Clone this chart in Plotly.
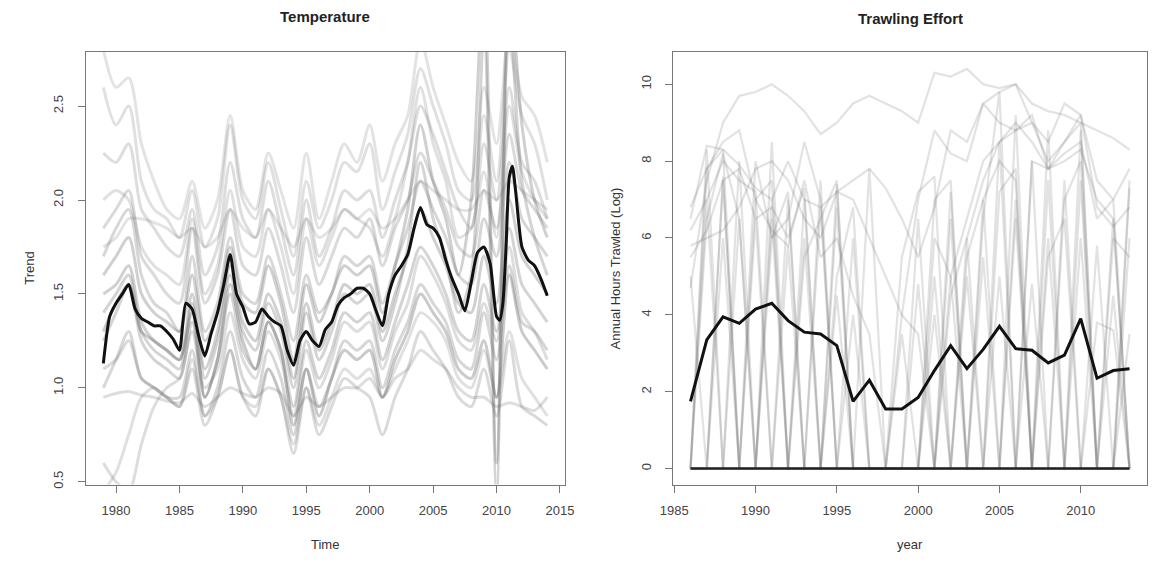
import plotly.graph_objects as go

# ---------------- Temperature panel data ----------------
temp_years = list(range(1979, 2015))

temp_series = [
    [2.80, 2.60, 2.65, 2.30, 2.10, 1.95, 1.90, 2.10, 1.85, 2.00, 2.45, 2.05, 1.95, 2.25, 2.05, 1.85, 2.25, 1.90, 2.10, 2.30, 2.20, 2.40, 2.10, 2.30, 2.45, 2.85, 2.60, 2.40, 2.20, 2.10, 2.60, 2.30, 2.90, 2.55, 2.45, 2.20],
    [2.60, 2.40, 2.50, 2.10, 1.95, 1.90, 1.80, 2.05, 1.75, 1.90, 2.40, 2.00, 1.90, 2.20, 1.95, 1.70, 2.10, 1.85, 2.00, 2.20, 2.15, 2.30, 1.95, 2.15, 2.35, 2.70, 2.50, 2.30, 2.05, 2.00, 2.45, 2.10, 2.80, 2.45, 2.30, 2.00],
    [2.25, 2.20, 2.30, 1.95, 1.85, 1.75, 1.70, 1.95, 1.60, 1.75, 2.20, 1.90, 1.80, 2.10, 1.85, 1.60, 2.00, 1.70, 1.85, 2.05, 2.00, 2.05, 1.80, 2.00, 2.20, 2.50, 2.35, 2.15, 1.95, 1.85, 2.30, 2.00, 2.60, 2.20, 2.10, 1.90],
    [1.85, 1.95, 2.05, 1.70, 1.60, 1.50, 1.45, 1.85, 1.45, 1.60, 1.95, 1.65, 1.60, 1.85, 1.65, 1.40, 1.80, 1.55, 1.70, 1.85, 1.80, 1.90, 1.65, 1.85, 2.00, 2.25, 2.10, 1.95, 1.75, 1.70, 2.05, 1.85, 2.35, 2.05, 1.95, 1.85],
    [1.70, 1.85, 1.95, 1.60, 1.45, 1.40, 1.30, 1.70, 1.30, 1.45, 1.80, 1.50, 1.45, 1.70, 1.50, 1.25, 1.60, 1.40, 1.50, 1.70, 1.65, 1.70, 1.45, 1.65, 1.85, 2.10, 1.95, 1.80, 1.60, 1.55, 1.90, 1.70, 2.20, 1.90, 1.80, 1.70],
    [1.75, 1.80, 1.90, 1.90, 1.88, 1.85, 1.80, 1.85, 1.75, 1.80, 1.95, 1.85, 1.80, 1.95, 1.85, 1.75, 1.90, 1.80, 1.85, 1.95, 1.90, 1.95, 1.85, 1.90, 2.00, 2.10, 2.05, 2.00, 1.95, 1.95, 2.05, 2.00, 2.10, 2.05, 2.00, 1.95],
    [1.50, 1.55, 1.65, 1.35, 1.25, 1.20, 1.15, 1.50, 1.10, 1.30, 1.65, 1.35, 1.25, 1.50, 1.35, 1.05, 1.45, 1.20, 1.35, 1.55, 1.50, 1.55, 1.30, 1.50, 1.70, 1.95, 1.80, 1.65, 1.45, 1.40, 1.70, 1.45, 2.00, 1.70, 1.60, 1.50],
    [1.25, 1.40, 1.55, 1.25, 1.15, 1.10, 1.05, 1.35, 0.95, 1.15, 1.50, 1.20, 1.10, 1.35, 1.20, 0.90, 1.25, 1.05, 1.20, 1.40, 1.35, 1.40, 1.15, 1.35, 1.55, 1.75, 1.65, 1.50, 1.30, 1.25, 1.55, 1.30, 1.85, 1.55, 1.45, 1.35],
    [1.00, 1.15, 1.30, 1.05, 1.00, 0.95, 0.95, 1.20, 0.85, 1.00, 1.30, 1.05, 0.95, 1.20, 1.05, 0.75, 1.10, 0.90, 1.05, 1.25, 1.20, 1.25, 1.00, 1.20, 1.35, 1.55, 1.45, 1.35, 1.15, 1.10, 1.40, 1.15, 1.65, 1.35, 1.30, 1.20],
    [0.95, 0.97, 0.98, 0.96, 0.95, 0.93, 0.92, 0.97, 0.90, 0.95, 1.00, 0.97, 0.95, 1.00, 0.97, 0.85, 0.95, 0.90, 0.95, 1.00, 1.00, 1.05, 0.95, 1.05, 1.10, 1.20, 1.15, 1.10, 1.00, 0.95, 0.95, 0.90, 0.92, 0.90, 0.88, 0.95],
    [0.45, 0.55, 0.75, 0.95, 1.00, 0.95, 0.90, 1.15, 0.85, 0.95, 1.20, 0.95, 0.90, 1.10, 0.95, 0.70, 1.00, 0.80, 0.95, 1.10, 1.05, 1.10, 0.95, 1.10, 1.25, 1.40, 1.35, 1.25, 1.05, 1.00, 1.20, 0.95, 1.30, 1.05, 0.95, 0.85],
    [0.60, 0.50, 0.45, 0.70, 0.90, 1.00, 1.05, 1.30, 1.00, 1.10, 1.40, 1.15, 1.05, 1.30, 1.15, 0.85, 1.20, 1.00, 1.15, 1.35, 1.30, 1.35, 1.10, 1.30, 1.45, 1.70, 1.60, 1.45, 1.25, 1.20, 1.45, 1.25, 1.75, 1.40, 1.30, 1.15],
    [1.10, 1.15, 1.25, 1.05, 1.00, 0.95, 0.90, 1.10, 0.80, 0.95, 1.20, 0.95, 0.85, 1.10, 0.95, 0.65, 1.00, 0.75, 0.90, 1.05, 1.00, 0.95, 0.75, 0.95, 1.10, 1.30, 1.20, 1.10, 0.95, 0.90, 1.10, 0.85, 1.25, 0.90, 0.85, 0.80],
    [1.60, 1.70, 1.80, 1.50, 1.40, 1.35, 1.30, 1.60, 1.25, 1.40, 1.75, 1.45, 1.40, 1.65, 1.45, 1.15, 1.55, 1.35, 1.50, 1.65, 1.60, 1.65, 1.40, 1.65, 1.95, 2.40, 2.10, 1.90, 1.60, 2.00, 3.20, 0.60, 3.20, 2.40, 2.00, 1.80],
    [1.40, 1.50, 1.60, 1.30, 1.20, 1.15, 1.10, 1.45, 1.05, 1.25, 1.60, 1.30, 1.20, 1.45, 1.30, 1.00, 1.40, 1.15, 1.30, 1.50, 1.45, 1.50, 1.25, 1.45, 1.75, 2.20, 1.90, 1.70, 1.40, 1.60, 2.90, 0.45, 3.00, 2.10, 1.80, 1.60],
    [1.30, 1.45, 1.55, 1.30, 1.25, 1.20, 1.15, 1.40, 0.95, 1.15, 1.55, 1.25, 1.10, 1.35, 1.20, 0.80, 1.10, 0.85, 1.05, 1.20, 1.15, 1.20, 0.95, 1.15, 1.30, 1.50, 1.40, 1.30, 1.10, 1.05, 1.25, 0.95, 1.60, 1.30, 1.20, 1.10],
    [2.00, 2.05, 2.00, 1.75, 1.65, 1.60, 1.55, 1.90, 1.50, 1.65, 2.05, 1.75, 1.70, 1.95, 1.75, 1.50, 1.90, 1.65, 1.80, 1.95, 1.90, 1.85, 1.70, 1.90, 2.20, 2.60, 2.30, 2.10, 1.80, 1.85, 2.15, 1.80, 2.50, 2.15, 2.00, 1.90],
]

temp_mean_x = [1979.0, 1979.5, 1980.0, 1980.5, 1981.0, 1981.5, 1982.0, 1982.5, 1983.0, 1983.5,
               1984.0, 1984.5, 1985.0, 1985.5, 1986.0, 1986.5, 1987.0, 1987.5, 1988.0, 1988.5,
               1989.0, 1989.5, 1990.0, 1990.5, 1991.0, 1991.5, 1992.0, 1992.5, 1993.0, 1993.5,
               1994.0, 1994.5, 1995.0, 1995.5, 1996.0, 1996.5, 1997.0, 1997.5, 1998.0, 1998.5,
               1999.0, 1999.5, 2000.0, 2000.5, 2001.0, 2001.5, 2002.0, 2002.5, 2003.0, 2003.5,
               2004.0, 2004.5, 2005.0, 2005.5, 2006.0, 2006.5, 2007.0, 2007.5, 2008.0, 2008.5,
               2009.0, 2009.5, 2010.0, 2010.25, 2010.5, 2010.75, 2011.0, 2011.25, 2011.5, 2012.0,
               2012.5, 2013.0, 2013.5, 2014.0]
temp_mean_y = [1.13, 1.38, 1.45, 1.50, 1.55, 1.42, 1.37, 1.35, 1.33, 1.33,
               1.30, 1.26, 1.20, 1.45, 1.42, 1.28, 1.17, 1.29, 1.40, 1.55,
               1.71, 1.50, 1.43, 1.34, 1.35, 1.42, 1.38, 1.35, 1.33, 1.20,
               1.12, 1.25, 1.30, 1.25, 1.22, 1.31, 1.35, 1.44, 1.48, 1.50,
               1.53, 1.53, 1.50, 1.41, 1.33, 1.50, 1.60, 1.65, 1.71, 1.85,
               1.96, 1.87, 1.85, 1.80, 1.68, 1.58, 1.50, 1.41, 1.56, 1.72,
               1.75, 1.66, 1.38, 1.36, 1.45, 1.75, 2.12, 2.18, 2.05, 1.75,
               1.68, 1.65, 1.58, 1.49]

# ---------------- Trawling effort panel data ----------------
trawl_years = list(range(1986, 2014))

trawl_series = [
    [4.7, 7.5, 9.0, 9.7, 9.8, 10.0, 9.7, 9.3, 8.7, 9.0, 9.5, 9.7, 9.5, 9.3, 9.0, 10.3, 10.2, 10.4, 10.0, 9.9, 10.0, 9.5, 9.3, 9.2, 9.0, 8.8, 8.6, 8.3],
    [6.5, 8.4, 8.3, 7.9, 7.3, 7.0, 8.0, 7.0, 6.8, 7.2, 7.5, 7.8, 7.3, 6.5, 5.5, 6.8, 8.8, 8.5, 9.5, 9.8, 10.0, 9.0, 8.5, 9.5, 9.2, 7.5, 7.0, 7.8],
    [0.0, 7.8, 8.3, 0.0, 7.0, 7.5, 0.0, 0.0, 7.5, 0.0, 0.0, 7.8, 0.0, 0.0, 0.0, 7.0, 7.5, 0.0, 6.5, 9.8, 0.0, 8.0, 7.8, 8.5, 9.0, 0.0, 6.0, 5.5],
    [0.0, 6.5, 8.2, 6.5, 0.0, 6.0, 7.2, 0.0, 0.0, 6.8, 0.0, 0.0, 0.0, 5.5, 7.2, 7.6, 0.0, 5.5, 7.0, 8.0, 7.5, 0.0, 0.0, 7.0, 8.0, 0.0, 0.0, 7.3],
    [5.5, 6.2, 7.5, 7.8, 6.5, 6.8, 6.0, 7.3, 0.0, 5.0, 6.8, 0.0, 0.0, 0.0, 4.8, 0.0, 5.0, 6.5, 8.0, 8.5, 9.0, 8.5, 7.8, 8.0, 8.3, 7.0, 6.5, 0.0],
    [0.0, 0.0, 7.5, 0.0, 8.0, 6.0, 6.5, 8.5, 7.0, 0.0, 4.0, 0.0, 0.0, 0.0, 0.0, 5.0, 0.0, 0.0, 5.5, 0.0, 7.0, 0.0, 0.0, 7.5, 0.0, 0.0, 0.0, 0.0],
    [6.8, 7.8, 8.5, 8.8, 7.0, 6.2, 5.8, 7.5, 5.5, 6.0, 4.5, 3.5, 0.0, 4.0, 7.0, 8.8, 8.2, 8.0, 9.5, 9.0, 8.8, 9.2, 7.8, 8.2, 8.5, 6.5, 7.0, 0.0],
    [0.0, 0.0, 0.0, 6.5, 0.0, 0.0, 7.0, 0.0, 0.0, 0.0, 0.0, 0.0, 0.0, 0.0, 0.0, 0.0, 7.2, 0.0, 0.0, 5.0, 0.0, 0.0, 6.0, 0.0, 0.0, 5.8, 0.0, 0.0],
    [5.8, 6.0, 6.2, 6.8, 7.8, 8.0, 7.5, 6.5, 6.0, 7.2, 7.0, 6.0, 5.0, 4.0, 3.5, 0.0, 4.5, 6.0, 7.5, 8.5, 8.8, 9.0, 8.0, 8.5, 9.2, 6.8, 6.3, 6.8],
    [0.0, 7.0, 0.0, 8.0, 0.0, 6.5, 0.0, 7.0, 0.0, 0.0, 6.0, 0.0, 0.0, 0.0, 0.0, 0.0, 6.5, 0.0, 7.0, 0.0, 0.0, 8.0, 0.0, 0.0, 7.5, 0.0, 0.0, 3.5],
    [0.0, 0.0, 6.0, 0.0, 0.0, 7.0, 0.0, 0.0, 6.8, 0.0, 0.0, 0.0, 0.0, 3.5, 0.0, 0.0, 0.0, 6.0, 0.0, 8.5, 0.0, 0.0, 8.8, 0.0, 0.0, 0.0, 4.5, 0.0],
    [6.2, 7.0, 8.0, 7.5, 7.2, 0.0, 0.0, 5.5, 6.5, 7.5, 0.0, 0.0, 0.0, 0.0, 0.0, 6.0, 5.0, 0.0, 0.0, 7.2, 7.8, 0.0, 5.5, 6.5, 0.0, 0.0, 0.0, 7.5],
    [0.0, 8.3, 0.0, 0.0, 6.5, 0.0, 5.8, 0.0, 0.0, 4.5, 0.0, 0.0, 0.0, 0.0, 0.0, 4.0, 0.0, 5.0, 0.0, 0.0, 6.5, 0.0, 7.5, 0.0, 6.0, 0.0, 6.5, 0.0],
    [0.0, 0.0, 0.0, 0.0, 0.0, 0.0, 0.0, 6.0, 0.0, 0.0, 0.0, 0.0, 0.0, 0.0, 6.5, 0.0, 0.0, 0.0, 0.0, 0.0, 0.0, 4.8, 0.0, 0.0, 0.0, 3.8, 3.6, 0.0],
    [5.0, 0.0, 7.6, 0.0, 0.0, 8.5, 0.0, 0.0, 0.0, 7.4, 0.0, 0.0, 0.0, 0.0, 0.0, 0.0, 0.0, 0.0, 0.0, 0.0, 9.2, 0.0, 0.0, 0.0, 8.8, 0.0, 0.0, 6.0],
]

trawl_zero = [0.0] * 28

trawl_mean = [1.75, 3.35, 3.95, 3.78, 4.15, 4.30, 3.85, 3.55, 3.50, 3.20,
              1.75, 2.30, 1.55, 1.55, 1.85, 2.55, 3.20, 2.60, 3.10, 3.70,
              3.12, 3.08, 2.75, 2.95, 3.90, 2.35, 2.55, 2.60]

# tick labels
temp_xticks = [1980, 1985, 1990, 1995, 2000, 2005, 2010, 2015]
temp_yticks = [0.5, 1.0, 1.5, 2.0, 2.5]
trawl_xticks = [1985, 1990, 1995, 2000, 2005, 2010]
trawl_yticks = [0, 2, 4, 6, 8, 10]

# per-line opacity (style)
temp_alpha = [0.18, 0.20, 0.22, 0.24, 0.26, 0.18, 0.30, 0.28, 0.26, 0.22, 0.20, 0.22, 0.24, 0.30, 0.28, 0.34, 0.20]

# ---------------- Figure ----------------
fig = go.Figure()

for s, a in zip(temp_series, temp_alpha):
    fig.add_trace(go.Scatter(x=temp_years, y=s, mode="lines",
                             line=dict(color=f"rgba(100,100,100,{a})", width=3,
                                       shape="spline", smoothing=0.8),
                             xaxis="x", yaxis="y", hoverinfo="skip", showlegend=False))
fig.add_trace(go.Scatter(x=temp_mean_x, y=temp_mean_y, mode="lines",
                         line=dict(color="#111111", width=3, shape="spline", smoothing=0.6),
                         xaxis="x", yaxis="y", showlegend=False))

for s in trawl_series:
    fig.add_trace(go.Scatter(x=trawl_years, y=s, mode="lines",
                             line=dict(color="rgba(110,110,110,0.2)", width=2.2),
                             xaxis="x2", yaxis="y2", hoverinfo="skip", showlegend=False))
fig.add_trace(go.Scatter(x=trawl_years, y=trawl_zero, mode="lines",
                         line=dict(color="#222222", width=2.5),
                         xaxis="x2", yaxis="y2", showlegend=False))
fig.add_trace(go.Scatter(x=trawl_years, y=trawl_mean, mode="lines",
                         line=dict(color="#111111", width=3),
                         xaxis="x2", yaxis="y2", showlegend=False))

FONT = "Liberation Sans, Arial, sans-serif"
axis_common = dict(showline=True, mirror=True, linecolor="#777777", linewidth=1,
                   ticks="outside", ticklen=7, tickcolor="#777777", tickwidth=1,
                   showgrid=False, zeroline=False,
                   tickfont=dict(family=FONT, size=13, color="#444444"))

ydom = [1 - 488 / 563, 1 - 52 / 563]

fig.update_layout(
    width=1160, height=563,
    margin=dict(l=0, r=0, t=0, b=0),
    paper_bgcolor="white", plot_bgcolor="white",
    font=dict(family=FONT, size=13, color="#333333"),
    xaxis=dict(domain=[74 / 1160, 562.7 / 1160], range=[1977.6, 2015.4],
               tickvals=temp_xticks, anchor="y", ticklabelstandoff=7, **axis_common),
    yaxis=dict(domain=ydom, range=[0.485, 2.79], tickvals=temp_yticks,
               ticktext=[f"{v:.1f}" for v in temp_yticks], tickangle=-90,
               anchor="x", ticklabelstandoff=9, **axis_common),
    xaxis2=dict(domain=[672.7 / 1160, 1156 / 1160], range=[1984.92, 2014.08],
                tickvals=trawl_xticks, anchor="y2", ticklabelstandoff=7, **axis_common),
    yaxis2=dict(domain=ydom, range=[-0.416, 10.85], tickvals=trawl_yticks,
                tickangle=-90, anchor="x2", ticklabelstandoff=9, **axis_common),
    annotations=[
        dict(text="<b>Temperature</b>", x=(74 + 562.7) / 2 / 1160, y=1 - 17 / 563,
             xref="paper", yref="paper", showarrow=False,
             font=dict(family=FONT, size=15, color="#222222"), xanchor="center", yanchor="middle"),
        dict(text="<b>Trawling Effort</b>", x=(672.7 + 1156) / 2 / 1160, y=1 - 19 / 563,
             xref="paper", yref="paper", showarrow=False,
             font=dict(family=FONT, size=15, color="#222222"), xanchor="center", yanchor="middle"),
        dict(text="Time", x=(74 + 562.7) / 2 / 1160, y=1 - 548 / 563,
             xref="paper", yref="paper", showarrow=False,
             font=dict(family=FONT, size=13, color="#333333"), xanchor="center", yanchor="middle"),
        dict(text="year", x=(672.7 + 1156) / 2 / 1160, y=1 - 548 / 563,
             xref="paper", yref="paper", showarrow=False,
             font=dict(family=FONT, size=13, color="#333333"), xanchor="center", yanchor="middle"),
        dict(text="Trend", x=16 / 1160, y=1 - 270 / 563, textangle=-90,
             xref="paper", yref="paper", showarrow=False,
             font=dict(family=FONT, size=13, color="#333333"), xanchor="center", yanchor="middle"),
        dict(text="Annual Hours Trawled (Log)", x=614 / 1160, y=1 - 270 / 563, textangle=-90,
             xref="paper", yref="paper", showarrow=False,
             font=dict(family=FONT, size=13, color="#333333"), xanchor="center", yanchor="middle"),
    ],
)

fig.write_html("out.html")
